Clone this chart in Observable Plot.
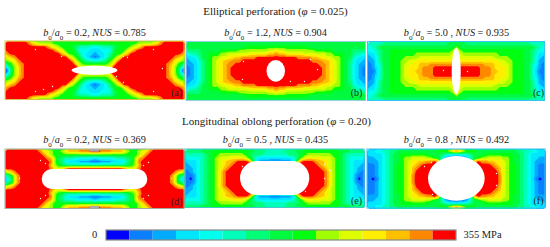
<!DOCTYPE html>
<html><head><meta charset="utf-8">
<script src="https://cdn.jsdelivr.net/npm/d3@7"></script>
<script src="https://cdn.jsdelivr.net/npm/@observablehq/plot@0.6"></script>
<style>html,body{margin:0;padding:0;background:#fff}svg{display:block}</style>
</head><body><div id="chart"></div>
<script>
const quarterA = [
"eeeeeedba9999888888888888",
"eeeeeeeeeeedba98887655544",
"eeeeeeeeeeeeedba888644433",
"deeeeeeeeeeeeeeca88754332",
"bcdeeeeeeeeeeeeeeb9864321",
"9abdeeeeeeeeeeeeeec986544",
"78acdeeeeeeeeeeeeeeb98888",
"479bdeeeeeeeeeeeeeeeaaaaa",
"169bdeeeeeeeeeeeeeeeeeeee"];
const quarterB = [
"7777777777777777777777777",
"7777777777777777888888888",
"6666777778888899999999aab",
"45567788899aaaaaabbbbbccd",
"334577899aabbccddddeeeeee",
"23356789abccdddeeeeeeeeee",
"22346789abcddeeeeeeeeeeee",
"12346789abcdeeeeeeeeeeeee",
"12346789abcdeeeeeeeeeeeee"];
const quarterC = [
"5555666666666666666666777",
"4567777777777777777777779",
"445677888888888888888889c",
"33567788888889999999999ac",
"23467788889999aaaaaaaaaac",
"22467788899aabbbbbbbbbbbd",
"1245778889aabbcccddddddde",
"1235778889abbbcdddeeeeeee",
"1135778889abbccdddeeeeeee"];
const quarterD = [
"eeeeeeeeedba9889bcccdddee",
"eeeeeeeeeedb9888888888888",
"eeeeeeeeeeedc976555444443",
"eeeeeeeeeeeed976433322211",
"eeeeeeeeeeeec987666666666",
"eeeeeeeeeeeedbabdeeeeeeee",
"abdeeeeeeeeeeeeeeeeeeeeee",
"67adeeeeeeeeeeeeeeeeeeeee",
"36adeeeeeeeeeeeeeeeeeeeee"];
const quarterE = [
"6666777888888888877666555",
"5555567889999999876665555",
"444456789aaabbbba86433333",
"333456789abccdeeed8322211",
"233456789abcdeeeeeeeeeeee",
"223456789acdeeeeeeeeeeeee",
"123456789bdeeeeeeeeeeeeee",
"112456789bdeeeeeeeeeeeeee",
"102456789bdeeeeeeeeeeeeee"];
const quarterF = [
"3344556677777777777888 9bc".replace(" ",""),
"3333456778888888877765443",
"223345677899aaaa998752111",
"22234567789abbccddec51111",
"11234567889abcdeeeeeeeeee",
"11234567889acdeeeeeeeeeee",
"11234567889aceeeeeeeeeeee",
"11234567889adeeeeeeeeeeee",
"10134567889adeeeeeeeeeeee"];

const levelColors = ["#0000ff","#0a80ff","#00aaff","#00e6ff","#00ffee","#00ffbb","#00ff77","#00fa40","#00ff10","#a0ff00","#ddff00","#ffee00","#ffc000","#ff8800","#ff0000"];

const panelGrids = [quarterA, quarterB, quarterC, quarterD, quarterE, quarterF];
const panelLeft = [5, 186, 367.5, 5, 185, 367];
const panelRight = [184, 365.5, 544.5, 184, 364, 545];
const panelTop = [41, 41.5, 41.5, 149, 149, 149];
const panelBottom = [99.5, 100.5, 100.5, 208.5, 207.5, 208];
const panelBorder = ["#d9c34a","#8fd0e8","#35c6f0","#a3ad9c","#45c8c8","#30c0f0"];

const panelTags = ["(a)","(b)","(c)","(d)","(e)","(f)"];
const tagX = [176, 356, 538, 176, 356, 538];
const tagY = [92, 92, 92, 201, 200, 200];

const holeLeft = [71.7, 266.5, 451.7, 41.7, 240, 428];
const holeRight = [117.3, 285, 460.7, 147.3, 309.3, 484.7];
const holeTop = [65.7, 60, 47.7, 169, 161, 156];
const holeBottom = [74.7, 81.7, 94.3, 189, 195, 200.7];
const holeRx = [22.8, 9.3, 4.5, 10, 17, 28.3];
const holeRy = [4.5, 10.8, 23.3, 10, 17, 22.3];

const speckX = [35,61,43,52,35,153,127,123,162,116,123,153,243,242,310,317,290,304,443,467,19,171,40,45,148,143,40,45,148,143,245,242,249,324,330,324,305,424,431,432,496,496];
const speckY = [49,56,89,86,91,49,57,56,68,76,82,91,61,79,59,69,81,81,70,71,178,178,160,163,162,165,198,195,195,198,175,166,191,164,170,178,191,166,162,194,173,185];
const patchX1 = [90, 90];
const patchX2 = [99, 99];
const patchY1 = [149, 206];
const patchY2 = [151.5, 208];

const headings = ["Elliptical perforation (φ = 0.025)", "Longitudinal oblong perforation (φ = 0.20)"];
const headingX = [275, 276];
const headingY = [11, 121];
const captions = ["b0/a0 = 0.2, NUS = 0.785","b0/a0 = 1.2, NUS = 0.904","b0/a0 = 5.0 , NUS = 0.935","b0/a0 = 0.2, NUS = 0.369","b0/a0 = 0.5 , NUS = 0.435","b0/a0 = 0.8 , NUS = 0.492"];
const captionX = [94, 275, 456, 94, 275, 456];
const captionY = [32, 32, 32, 139, 139, 139];

const thresholds = d3.range(0.5, 14, 1);
const serif = "'Liberation Serif', serif";

function fullGrid(q) {
  const rows = q.map(r => r + [...r.slice(0, -1)].reverse().join(""));
  const all = rows.concat(rows.slice(0, -1).reverse());
  return all.join("").split("").map(c => parseInt(c, 16));
}

const marks = [];
panelGrids.forEach((q, i) => {
  marks.push(Plot.contour(fullGrid(q), {
    value: Plot.identity,
    width: 49, height: 17,
    x1: panelLeft[i], x2: panelRight[i], y1: panelTop[i], y2: panelBottom[i],
    fill: "value", thresholds: [-1, ...thresholds]
  }));
  marks.push(Plot.rect([i], {
    x1: panelLeft[i], x2: panelRight[i], y1: panelTop[i], y2: panelBottom[i],
    fill: null, stroke: panelBorder[i], strokeWidth: 1
  }));
});
marks.push(Plot.dot(speckX, {x: d => d, y: (d, i) => speckY[i], r: 0.7, fill: "#f2f2f2", stroke: null}));
marks.push(Plot.rect(patchX1, {x1: d => d, x2: (d, i) => patchX2[i], y1: (d, i) => patchY1[i], y2: (d, i) => patchY2[i], fill: "#a9a9a9"}));
panelGrids.forEach((q, i) => {
  marks.push(Plot.rect([i], {
    x1: holeLeft[i], x2: holeRight[i], y1: holeTop[i], y2: holeBottom[i],
    fill: "white", rx: holeRx[i], ry: holeRy[i]
  }));
});
marks.push(Plot.text(headings, {x: (d,i)=>headingX[i], y: (d,i)=>headingY[i], text: d=>d, fontSize: 11, fontFamily: serif, fill: "#222"}));
marks.push(Plot.text(captions, {x: (d,i)=>captionX[i], y: (d,i)=>captionY[i], text: d=>d, fontSize: 10.3, fontFamily: serif, fill: "#222"}));
marks.push(Plot.text(panelTags, {x: (d,i)=>tagX[i], y: (d,i)=>tagY[i], text: d=>d, fontSize: 10, fontFamily: serif, fill: "#222"}));

const main = Plot.plot({
  width: 550, height: 218, margin: 0,
  x: {domain: [0, 550], range: [0, 550], axis: null},
  y: {domain: [0, 218], range: [0, 218], axis: null},
  color: {type: "threshold", domain: thresholds, range: levelColors},
  style: {background: "white"},
  marks
});

// Italic letters, subscripts and the phi in the running text.
main.querySelectorAll("text").forEach(t => {
  const s = t.textContent;
  if (!/b0\/a0|φ/.test(s)) return;
  t.textContent = "";
  s.split(/(b0|a0|NUS|φ)/).filter(Boolean).forEach(p => {
    const add = (txt, it, sub) => {
      const e = document.createElementNS("http://www.w3.org/2000/svg", "tspan");
      e.textContent = txt;
      if (it) e.setAttribute("font-style", "italic");
      if (sub) { e.setAttribute("font-size", "7"); e.setAttribute("baseline-shift", "sub"); }
      t.appendChild(e);
    };
    if (p === "b0" || p === "a0") { add(p[0], true); add("0", false, true); }
    else if (p === "NUS" || p === "φ") add(p, true);
    else add(p);
  });
});

// Colour bar: 0 to 355 MPa in fifteen equal bands.
const barEdges = d3.range(0, 15).map(i => i * 355 / 15);
const bar = Plot.plot({
  width: 550, height: 29, margin: 0,
  x: {domain: [0, 355], range: [106, 456], axis: null},
  y: {domain: [0, 29], range: [0, 29], axis: null},
  color: {type: "threshold", domain: thresholds, range: levelColors},
  style: {background: "white"},
  marks: [
    Plot.rect(barEdges, {x1: d => d, x2: d => d + 355 / 15, y1: 12, y2: 22, fill: (d, i) => i}),
    Plot.rect([0], {x1: 0, x2: 355, y1: 12, y2: 22, fill: null, stroke: "#888", strokeWidth: 1.2}),
    Plot.text(["0"], {x: -12, y: 16.5, text: d => d, fontSize: 10.5, fontFamily: serif, fill: "#222", textAnchor: "middle"}),
    Plot.text(["355 MPa"], {x: 362, y: 16.5, text: d => d, fontSize: 10.5, fontFamily: serif, fill: "#222", textAnchor: "start"})
  ]
});
const root = document.getElementById("chart");
root.appendChild(main);
root.appendChild(bar);

// Each row must hold 25 samples.
panelGrids.forEach((q, i) => q.forEach((r, j) => { if (r.length !== 25) throw new Error("row length " + i + " " + j + " " + r.length); }));
</script></body></html>
